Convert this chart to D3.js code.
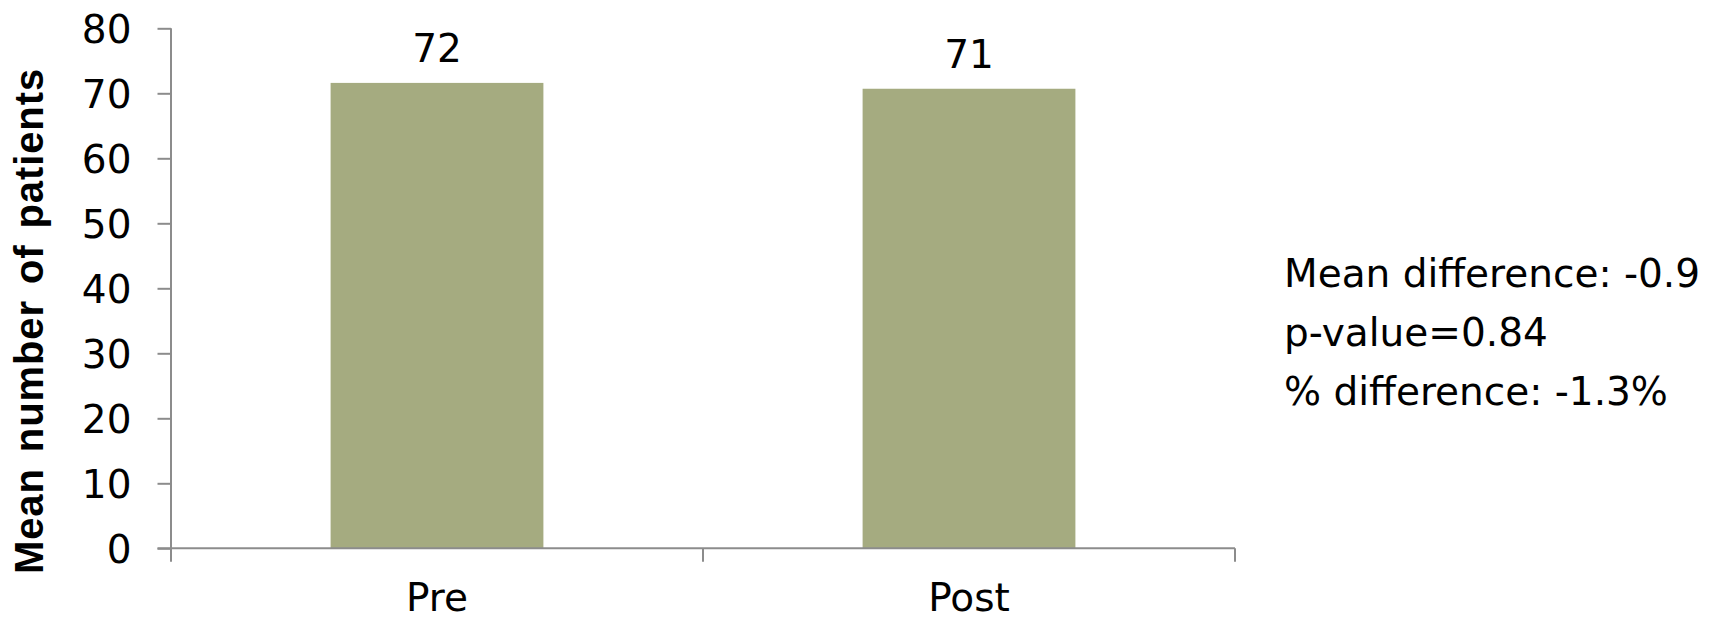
<!DOCTYPE html>
<html>
<head>
<meta charset="utf-8">
<script src="https://cdn.jsdelivr.net/npm/d3@7"></script>
<style>
  html, body { margin: 0; padding: 0; background: #ffffff; }
  svg { display: block; }
</style>
</head>
<body>
<svg id="chart" width="1717" height="620"></svg>
<script>
// Chart data
const categories = ["Pre", "Post"];
const meanPatients = [71.6, 70.7];
const valueLabels = ["72", "71"];
const yTicks = [0, 10, 20, 30, 40, 50, 60, 70, 80];
const yTitle = "Mean number of patients";
const statsLines = ["Mean difference: -0.9", "p-value=0.84", "% difference: -1.3%"];

const W = 1717, H = 620;
const margin = { left: 171, right: 482, top: 28.3, bottom: 71.7 };
const axisColor = "#8c8c8c";
const barColor = "#a5ab80";
const textFont = "'DejaVu Sans', sans-serif";

const svg = d3.select("#chart");

const x = d3.scaleBand()
  .domain(categories)
  .range([margin.left, W - margin.right])
  .paddingInner(0.6)
  .paddingOuter(0.3);

const y = d3.scaleLinear()
  .domain([0, 80])
  .range([H - margin.bottom, margin.top]);

// Bars
svg.append("g")
  .selectAll("rect")
  .data(categories)
  .join("rect")
  .attr("x", d => x(d))
  .attr("y", (d, i) => y(meanPatients[i]))
  .attr("width", x.bandwidth())
  .attr("height", (d, i) => y(0) - y(meanPatients[i]))
  .attr("fill", barColor);

// Value labels above bars
svg.append("g")
  .selectAll("text")
  .data(categories)
  .join("text")
  .attr("x", d => x(d) + x.bandwidth() / 2)
  .attr("y", (d, i) => y(meanPatients[i]) - 21)
  .attr("text-anchor", "middle")
  .style("font-family", textFont)
  .style("font-size", "39px")
  .attr("fill", "#000")
  .text((d, i) => valueLabels[i]);

// Y axis
const yAxis = d3.axisLeft(y)
  .tickValues(yTicks)
  .tickSize(13.5)
  .tickPadding(26)
  .tickFormat(d3.format("d"));

const gy = svg.append("g")
  .attr("transform", `translate(${margin.left},0)`)
  .call(yAxis);
gy.select(".domain").attr("stroke", axisColor).attr("stroke-width", 2)
  .attr("d", `M0,${y(80)}V${y(0)}`);
gy.selectAll(".tick line").attr("stroke", axisColor).attr("stroke-width", 2);
gy.selectAll(".tick text")
  .style("font-family", textFont)
  .style("font-size", "39px")
  .attr("fill", "#000")
  .attr("dy", "0.36em");

// X axis: baseline plus ticks at the band boundaries
const boundaries = [margin.left,
  ...categories.map(c => x(c) + x.bandwidth() + x.paddingInner() * x.step() / 2)];
boundaries[boundaries.length - 1] = W - margin.right;

const gx = svg.append("g");
gx.append("line")
  .attr("x1", margin.left - 13.5)
  .attr("x2", W - margin.right)
  .attr("y1", y(0))
  .attr("y2", y(0))
  .attr("stroke", axisColor)
  .attr("stroke-width", 2);
gx.selectAll("line.cat-tick")
  .data(boundaries)
  .join("line")
  .attr("class", "cat-tick")
  .attr("x1", d => d)
  .attr("x2", d => d)
  .attr("y1", y(0))
  .attr("y2", y(0) + 13.5)
  .attr("stroke", axisColor)
  .attr("stroke-width", 2);
gx.selectAll("text")
  .data(categories)
  .join("text")
  .attr("x", d => x(d) + x.bandwidth() / 2)
  .attr("y", 611)
  .attr("text-anchor", "middle")
  .style("font-family", textFont)
  .style("font-size", "39px")
  .attr("fill", "#000")
  .text(d => d);

// Y axis title
svg.append("text")
  .attr("transform", "translate(43,321) rotate(-90)")
  .attr("text-anchor", "middle")
  .style("font-family", "'Liberation Sans', Arial, sans-serif")
  .style("font-weight", "bold")
  .style("font-size", "40px")
  .style("letter-spacing", "0.9px")
  .style("word-spacing", "4px")
  .attr("fill", "#000")
  .text(yTitle);

// Summary statistics
svg.append("g")
  .selectAll("text")
  .data(statsLines)
  .join("text")
  .attr("x", 1284)
  .attr("y", (d, i) => 287 + i * 59)
  .style("font-family", textFont)
  .style("font-size", "39px")
  .attr("fill", "#000")
  .text(d => d);
</script>
</body>
</html>
